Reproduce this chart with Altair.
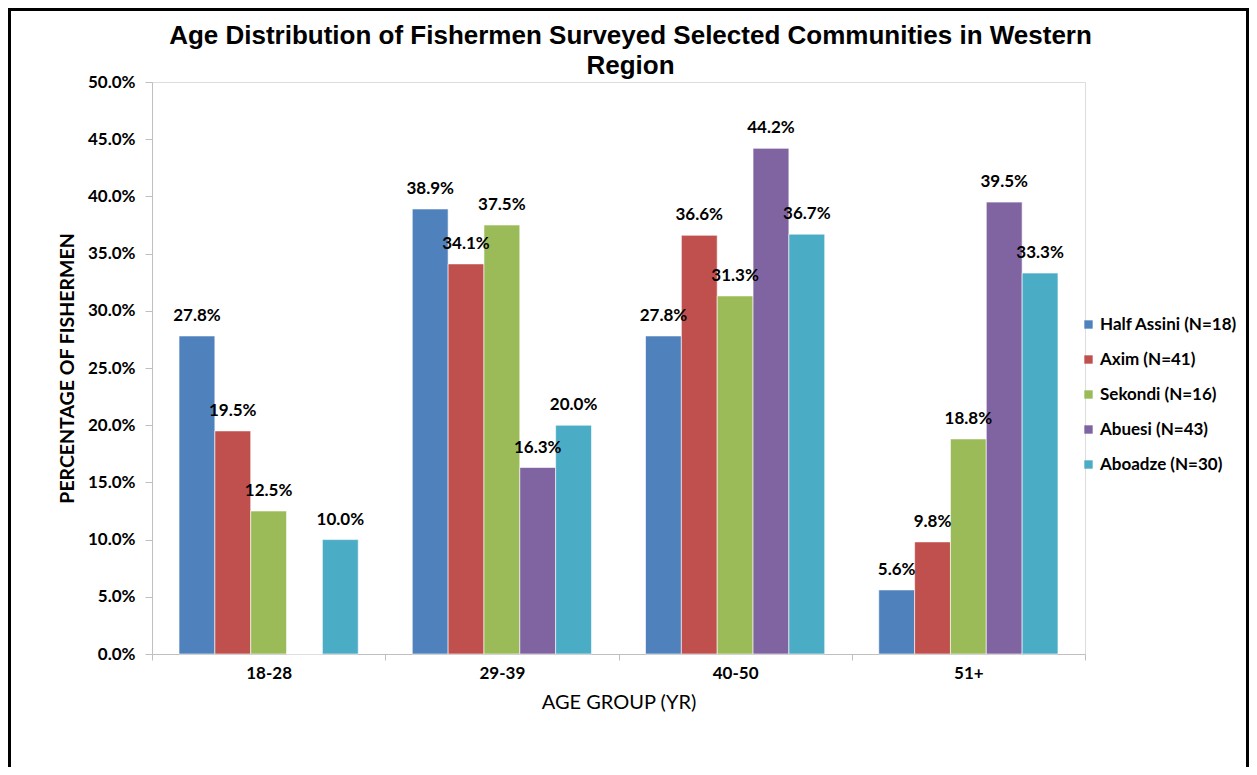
import altair as alt
import pandas as pd

age_groups = ["18-28", "29-39", "40-50", "51+"]
communities = ["Half Assini (N=18)", "Axim (N=41)", "Sekondi (N=16)", "Abuesi (N=43)", "Aboadze (N=30)"]
colors = ["#4F81BD", "#C0504D", "#9BBB59", "#8064A2", "#4BACC6"]
half_assini = [0.278, 0.389, 0.278, 0.056]
axim = [0.195, 0.341, 0.366, 0.098]
sekondi = [0.125, 0.375, 0.313, 0.188]
abuesi = [0.0, 0.163, 0.442, 0.395]
aboadze = [0.100, 0.200, 0.367, 0.333]
y_ticks = [0.0, 0.05, 0.10, 0.15, 0.20, 0.25, 0.30, 0.35, 0.40, 0.45, 0.50]

series = [half_assini, axim, sekondi, abuesi, aboadze]
rows = []
for name, vals in zip(communities, series):
    for g, v in zip(age_groups, vals):
        rows.append({"age": g, "community": name, "value": v})
df = pd.DataFrame(rows)

FONT = "Lato"
W, H = 933, 572
PL, PT = 144, 74
SVG_W, SVG_H = 1241, 759

x_enc = alt.X("age:N", sort=age_groups, title="AGE GROUP (YR)",
              scale=alt.Scale(paddingInner=0, paddingOuter=0),
              axis=alt.Axis(labelAngle=0, tickBand="extent", labelFont=FONT, labelFontSize=17,
                            labelFontWeight="bold", labelColor="black", labelPadding=5,
                            tickSize=6, tickColor="#BFBFBF", domainColor="#BFBFBF",
                            titleFont=FONT, titleFontSize=20, titleFontWeight="normal",
                            titleColor="black", titlePadding=11))
xo_enc = alt.XOffset("community:N", sort=communities,
                     scale=alt.Scale(paddingInner=0, paddingOuter=0.754))
y_enc = alt.Y("value:Q", title="PERCENTAGE OF FISHERMEN",
              scale=alt.Scale(domain=[0, 0.5], nice=False),
              axis=alt.Axis(values=y_ticks, format=".1%", grid=False, labelFont=FONT,
                            labelFontSize=17, labelFontWeight="bold", labelColor="black",
                            labelPadding=10, tickSize=7, tickColor="#BFBFBF",
                            domainColor="#BFBFBF", titleFont=FONT, titleFontSize=19.5,
                            titleFontWeight="bold", titleColor="black", titlePadding=10))

bars = alt.Chart(df).mark_bar(stroke="white", strokeWidth=0.6).encode(
    x=x_enc, xOffset=xo_enc, y=y_enc,
    color=alt.Color("community:N", sort=communities,
                    scale=alt.Scale(domain=communities, range=colors),
                    legend=alt.Legend(title=None, orient="none", legendX=928, legendY=234,
                                      symbolType="square", symbolSize=70, symbolStrokeWidth=0,
                                      labelFont=FONT, labelFontSize=17, labelFontWeight="bold",
                                      labelColor="black", rowPadding=17, labelOffset=3)),
)

labels = alt.Chart(df).transform_filter("datum.value > 0").mark_text(
    font=FONT, fontSize=17, fontWeight="bold", color="black", baseline="middle", dy=-20
).encode(
    x=alt.X("age:N", sort=age_groups), xOffset=alt.XOffset("community:N", sort=communities),
    y="value:Q", text=alt.Text("value:Q", format=".1%"),
)

frame = alt.Chart(pd.DataFrame({"a": [0]})).mark_rect(
    filled=False, stroke="black", strokeWidth=3
).encode(
    x=alt.value(-PL + 1.5), x2=alt.value(SVG_W - PL - 1.5),
    y=alt.value(-PT + 1.5), y2=alt.value(SVG_H - PT + 20),
)

chart = alt.layer(bars, labels, frame).properties(
    width=W, height=H,
    title=alt.Title(["Age Distribution of Fishermen Surveyed Selected Communities in Western", "Region"],
                    font="Liberation Sans", fontSize=26, fontWeight="bold", color="black",
                    anchor="middle", dx=12, dy=97, offset=0, lineHeight=30, baseline="bottom"),
    autosize=alt.AutoSizeParams(type="none"),
    padding={"left": PL, "top": PT, "right": SVG_W - PL - W, "bottom": SVG_H - PT - H},
).configure_view(stroke=None).configure(background="white")

chart.save("out.html", embed_options={"renderer": "svg", "actions": False})
